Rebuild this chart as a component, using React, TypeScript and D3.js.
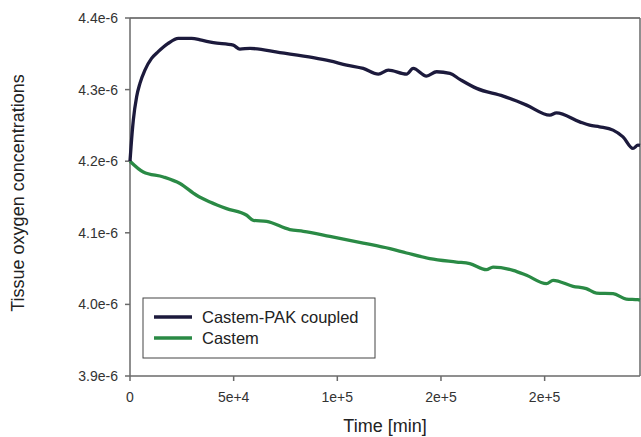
import React from "react";
import * as d3 from "d3";

const pakX = [0, 500, 1600, 3200, 4800, 7200, 10400, 13600, 18400, 23300, 29700, 34500, 40200, 49800, 53000, 57900, 72300, 88400, 96400, 104500, 112500, 119800, 124600, 133400, 136600, 143000, 147900, 154300, 159100, 167200, 180000, 191300, 202500, 205700, 216900, 221700, 226500, 233000, 237800, 242600, 245000, 246000];
const pakY = [4.2, 4.22, 4.2573, 4.29, 4.3087, 4.3273, 4.3436, 4.353, 4.3646, 4.3716, 4.3716, 4.369, 4.3655, 4.362, 4.3566, 4.3576, 4.3515, 4.3445, 4.34, 4.3343, 4.3296, 4.3217, 4.3273, 4.3217, 4.3296, 4.3189, 4.3249, 4.3226, 4.3143, 4.3017, 4.2909, 4.2783, 4.2643, 4.2676, 4.255, 4.2503, 4.248, 4.2434, 4.234, 4.2178, 4.2224, 4.222];

const castemX = [0, 6400, 16100, 24100, 32100, 38600, 46600, 56300, 59500, 65900, 77100, 83600, 96400, 112500, 125400, 133400, 144600, 157500, 163900, 171900, 175100, 184800, 191300, 200900, 204100, 213700, 220100, 225000, 233000, 239400, 245000, 246000];
const castemY = [4.2, 4.185, 4.178, 4.1688, 4.1524, 4.143, 4.1338, 4.1245, 4.1175, 4.116, 4.1045, 4.102, 4.095, 4.0857, 4.0778, 4.0718, 4.064, 4.0592, 4.057, 4.0485, 4.0522, 4.0476, 4.0406, 4.029, 4.0336, 4.0252, 4.022, 4.0158, 4.015, 4.0075, 4.0066, 4.006];

const seriesNames = ["Castem-PAK coupled", "Castem"];
const seriesColors = ["#1c1a3c", "#2a8a45"];

const xTickValues = [0, 50000, 100000, 150000, 200000];
const xTickLabels = ["0", "5e+4", "1e+5", "2e+5", "2e+5"];
const yTickValues = [3.9, 4.0, 4.1, 4.2, 4.3, 4.4];
const yTickLabels = ["3.9e-6", "4.0e-6", "4.1e-6", "4.2e-6", "4.3e-6", "4.4e-6"];

const xTitle = "Time [min]";
const yTitle = "Tissue oxygen concentrations";

export default function App() {
  const W = 641, H = 437;
  const left = 130, right = 640, top = 18, bottom = 376;
  const x = d3.scaleLinear().domain([0, 246000]).range([left, right]);
  const y = d3.scaleLinear().domain([3.9, 4.4]).range([bottom, top]);
  const line = d3.line<[number, number]>().x(d => x(d[0])).y(d => y(d[1])).curve(d3.curveMonotoneX);
  const pak: [number, number][] = pakX.map((v, i) => [v, pakY[i]]);
  const cas: [number, number][] = castemX.map((v, i) => [v, castemY[i]]);
  const font = "'Liberation Sans', Arial, sans-serif";
  const frame = "#6a6a6a";
  return (
    <svg width={W} height={H} style={{ position: "absolute", left: 0, top: 0, background: "#fff" }} fontFamily={font}>
      <rect x={0} y={0} width={W} height={H} fill="#fff" />
      <line x1={left} x2={right} y1={top} y2={top} stroke="#555" strokeWidth={1.5} />
      <line x1={right} x2={right} y1={top} y2={bottom} stroke={frame} strokeWidth={1.5} />
      <line x1={left} x2={right} y1={bottom} y2={bottom} stroke={frame} strokeWidth={1.5} />
      <line x1={left} x2={left} y1={top} y2={bottom} stroke={frame} strokeWidth={1.5} />
      {yTickValues.map((v, i) => (
        <g key={"y" + i}>
          <line x1={left - 5} x2={left} y1={y(v)} y2={y(v)} stroke={frame} strokeWidth={1.5} />
          <text x={left - 12} y={y(v)} dy="0.35em" textAnchor="end" fontSize={14} fill="#333">{yTickLabels[i]}</text>
        </g>
      ))}
      {xTickValues.map((v, i) => (
        <g key={"x" + i}>
          <line x1={x(v)} x2={x(v)} y1={bottom} y2={bottom + 5} stroke={frame} strokeWidth={1.5} />
          <text x={x(v)} y={bottom + 26} textAnchor="middle" fontSize={14} fill="#333">{xTickLabels[i]}</text>
        </g>
      ))}
      <path d={line(cas) || ""} fill="none" stroke={seriesColors[1]} strokeWidth={3.3} strokeLinejoin="round" />
      <path d={line(pak) || ""} fill="none" stroke={seriesColors[0]} strokeWidth={3.3} strokeLinejoin="round" />
      <text x={385} y={432} textAnchor="middle" fontSize={18} fill="#222">{xTitle}</text>
      <text transform={`translate(24, 193) rotate(-90)`} textAnchor="middle" fontSize={18} fill="#222">{yTitle}</text>
      <rect x={143} y={298} width={232} height={60} fill="#fff" stroke="#444" strokeWidth={1} />
      {seriesNames.map((n, i) => (
        <g key={"l" + i}>
          <line x1={154} x2={192} y1={317 + i * 21} y2={317 + i * 21} stroke={seriesColors[i]} strokeWidth={3.3} />
          <text x={202} y={317 + i * 21} dy="0.35em" fontSize={16.5} fill="#222">{n}</text>
        </g>
      ))}
    </svg>
  );
}
